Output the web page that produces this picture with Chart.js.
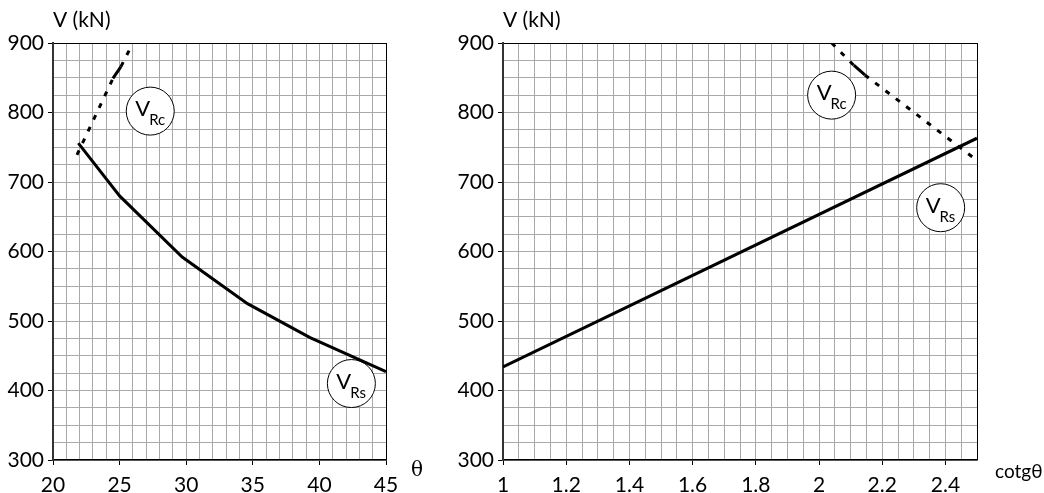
<!DOCTYPE html>
<html>
<head>
<meta charset="utf-8">
<script src="https://cdn.jsdelivr.net/npm/chart.js@4/dist/chart.umd.min.js"></script>
<style>
  html, body { margin: 0; padding: 0; background: #fff; }
  #wrap { position: relative; width: 1044px; height: 493px; overflow: hidden; }
  .pane { position: absolute; top: 0; }
</style>
</head>
<body>
<div id="wrap">
  <div class="pane" style="left:0"><canvas id="cTheta" width="440" height="493"></canvas></div>
  <div class="pane" style="left:440px"><canvas id="cCot" width="604" height="493"></canvas></div>
</div>
<script>
// Shear resistance V (kN) against strut angle θ (left) and cotg θ (right)

// Left panel: θ in degrees
const thetaRs = [21.9, 25, 29.7, 34.6, 39.3, 45];
const vRsTheta = [756, 680, 592, 525, 476, 427];
const thetaRc = [21.8, 24.5, 25.1, 26];
const vRcTheta = [739, 849, 866, 900];

// Right panel: cotg θ
const cotRs = [1, 2.5];
const vRsCot = [434, 763];
const cotRc = [2.04, 2.11, 2.145, 2.5];
const vRcCot = [900, 868, 854, 731];

// Axis ranges and labels
const vRange = [300, 900];
const thetaRange = [20, 45];
const cotRange = [1, 2.5];
const yTickLabels = [300, 400, 500, 600, 700, 800, 900];
const thetaTickLabels = [20, 25, 30, 35, 40, 45];
const cotTickLabels = [1, 1.2, 1.4, 1.6, 1.8, 2, 2.2, 2.4];

// Circled series tags, anchored in data units
const thetaTags = [{ x: 27.3, y: 802, sub: 'Rc' }, { x: 42.4, y: 410, sub: 'Rs' }];
const cotTags = [{ x: 2.04, y: 825, sub: 'Rc' }, { x: 2.385, y: 663, sub: 'Rs' }];

const FONT = 'Lato, "Open Sans", sans-serif';
const GRID = '#a9a9a9';

function isLabelled(v, list) {
  return list.some(t => Math.abs(t - v) < 1e-6);
}

const decor = {
  id: 'decor',
  beforeDatasetsDraw(chart, args, opts) {
    const { ctx } = chart;
    const xs = chart.scales.x, ys = chart.scales.y;
    ctx.save();
    (opts.tags || []).forEach(t => {
      const cx = xs.getPixelForValue(t.x), cy = ys.getPixelForValue(t.y);
      ctx.beginPath();
      ctx.arc(cx, cy, 24, 0, Math.PI * 2);
      ctx.fillStyle = '#fff';
      ctx.fill();
      ctx.lineWidth = 1;
      ctx.strokeStyle = '#000';
      ctx.stroke();
      ctx.fillStyle = '#000';
      ctx.textBaseline = 'alphabetic';
      ctx.textAlign = 'left';
      ctx.font = '22px ' + FONT;
      const vw = ctx.measureText('V').width;
      const x0 = cx - 15;
      ctx.fillText('V', x0, cy + 5);
      ctx.font = '15px ' + FONT;
      ctx.fillText(t.sub, x0 + vw - 1, cy + 14);
    });
    ctx.restore();
  },
  afterDraw(chart, args, opts) {
    const { ctx, chartArea: a } = chart;
    ctx.save();
    ctx.fillStyle = '#000';
    ctx.textAlign = 'left';
    ctx.textBaseline = 'alphabetic';
    ctx.font = '21px ' + FONT;
    ctx.fillText('V (kN)', a.left, 27);
    ctx.font = opts.xTitleFont;
    ctx.textBaseline = 'middle';
    ctx.fillText(opts.xTitle, a.right + opts.xTitleDx, a.bottom + opts.xTitleDy);
    ctx.restore();
  }
};

function buildChart(id, cfg) {
  const yMax = vRange[1];
  const xMax = cfg.xRange[1];
  return new Chart(document.getElementById(id), {
    type: 'line',
    data: {
      datasets: [
        {
          label: 'VRs',
          data: cfg.rsX.map((x, i) => ({ x, y: cfg.rsY[i] })),
          borderColor: '#000',
          borderWidth: 3,
          pointRadius: 0,
          tension: 0,
          borderCapStyle: 'butt'
        },
        {
          label: 'VRc',
          data: cfg.rcX.map((x, i) => ({ x, y: cfg.rcY[i] })),
          borderColor: '#000',
          borderWidth: 3,
          pointRadius: 0,
          tension: 0,
          borderCapStyle: 'butt',
          borderDash: [5, 8],
          segment: {
            borderDash: c => (c.p0DataIndex === 1 ? [] : [5, 8])
          }
        }
      ]
    },
    options: {
      responsive: false,
      animation: false,
      layout: { padding: { top: 43, right: cfg.padRight, left: 0, bottom: 0 } },
      plugins: {
        legend: { display: false },
        tooltip: { enabled: false },
        decor: {
          tags: cfg.tags,
          xTitle: cfg.xTitle,
          xTitleFont: cfg.xTitleFont,
          xTitleDx: cfg.xTitleDx,
          xTitleDy: cfg.xTitleDy
        }
      },
      scales: {
        x: {
          type: 'linear',
          min: cfg.xRange[0],
          max: cfg.xRange[1],
          afterFit: s => { s.height = 33; },
          ticks: {
            stepSize: cfg.xStep,
            autoSkip: false,
            maxRotation: 0,
            padding: 8,
            color: '#000',
            font: { family: FONT, size: 21 },
            callback: v => (isLabelled(v, cfg.xLabels) ? String(Math.round(v * 10) / 10) : '')
          },
          grid: {
            color: c => (c.tick && Math.abs(c.tick.value - xMax) < 1e-6 ? '#000' : GRID),
            lineWidth: 1,
            tickLength: 5,
            tickColor: c => (c.tick && isLabelled(c.tick.value, cfg.xLabels) ? '#000' : 'rgba(0,0,0,0)')
          },
          border: { display: true, color: '#000', width: 1.5 }
        },
        y: {
          type: 'linear',
          min: vRange[0],
          max: vRange[1],
          afterFit: s => { s.width = cfg.yWidth; },
          ticks: {
            stepSize: 25,
            autoSkip: false,
            padding: 4,
            color: '#000',
            font: { family: FONT, size: 21 },
            callback: v => (isLabelled(v, yTickLabels) ? String(v) : '')
          },
          grid: {
            color: c => (c.tick && c.tick.value === yMax ? '#000' : GRID),
            lineWidth: 1,
            tickLength: 5,
            tickColor: c => (c.tick && isLabelled(c.tick.value, yTickLabels) ? '#000' : 'rgba(0,0,0,0)')
          },
          border: { display: true, color: '#333', width: 2 }
        }
      }
    },
    plugins: [decor]
  });
}

buildChart('cTheta', {
  rsX: thetaRs, rsY: vRsTheta, rcX: thetaRc, rcY: vRcTheta,
  xRange: thetaRange, xStep: 1, xLabels: thetaTickLabels,
  yWidth: 53, padRight: 54, tags: thetaTags,
  xTitle: 'θ', xTitleFont: '20px "DejaVu Serif", serif', xTitleDx: 25, xTitleDy: 11
});

buildChart('cCot', {
  rsX: cotRs, rsY: vRsCot, rcX: cotRc, rcY: vRcCot,
  xRange: cotRange, xStep: 0.05, xLabels: cotTickLabels,
  yWidth: 63, padRight: 67, tags: cotTags,
  xTitle: 'cotgθ', xTitleFont: '19px ' + FONT, xTitleDx: 18, xTitleDy: 12
});
</script>
</body>
</html>
